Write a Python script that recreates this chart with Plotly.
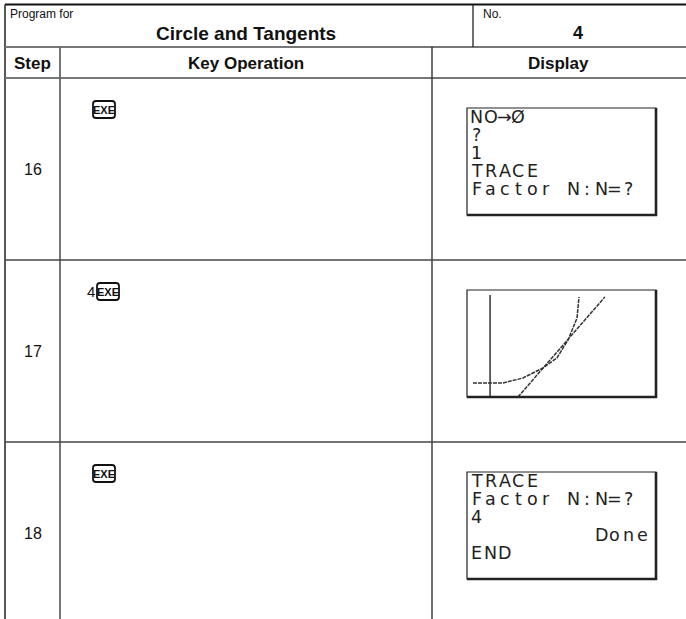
import plotly.graph_objects as go

W, H = 686, 619

# ---------------- data ----------------
title_small = "Program for"
title = "Circle and Tangents"
no_label = "No."
program_no = "4"
col_headers = ["Step", "Key Operation", "Display"]
steps = ["16", "17", "18"]
key_prefix = ["", "4", ""]
key_caps = ["EXE", "EXE", "EXE"]
screen16_lines = ["NO→Ø", "?", "1", "TRACE", "Factor N:N=?"]
screen18_lines = ["TRACE", "Factor N:N=?", "4", "Done", "END"]
screen18_align = ["left", "left", "left", "right", "left"]
# graph screen of step 17, in screen-dot units (96 x 64 dots)
curve_x = [3.0, 18.1, 28.1, 38.2, 45.2, 50.8, 55.3, 56.3]
curve_y = [8.2, 8.2, 11.2, 17.1, 23.0, 33.6, 46.5, 58.9]
tangent_x = [25.6, 69.3]
tangent_y = [0.0, 58.9]
yaxis_x = [11.6, 11.6]
yaxis_y = [0.0, 60.0]

# ---------------- layout constants ----------------
L, X_STEP, X_DISP, X_NO, R = 5, 60, 432, 473, 700
Y_TOP, Y_H1, Y_H2 = 4.5, 47, 78
ROW_H = 182
SCR_DX, SCR_W, SCR_DY, SCR_H = 35, 189, 30, 107
LINE_H = 18
PITCH = 13.8
FONT = "Liberation Sans, Arial, sans-serif"
NARROW = "Liberation Sans Narrow, Arial Narrow, Liberation Sans, Arial, sans-serif"
SCR_FONT = "DejaVu Sans, sans-serif"

fig = go.Figure()
shapes, ann = [], []

def line(x0, y0, x1, y1, color="#222", width=1.5):
    shapes.append(dict(type="line", xref="x", yref="y", x0=x0, y0=y0, x1=x1, y1=y1,
                       line=dict(color=color, width=width)))

def text(x, y, s, size, bold=False, xanchor="center", family=FONT, color="#111"):
    ann.append(dict(xref="x", yref="y", x=x, y=y, text=f"<b>{s}</b>" if bold else s,
                    showarrow=False, xanchor=xanchor, yanchor="middle",
                    font=dict(family=family, size=size, color=color)))

def rrect(x0, y0, x1, y1, r):
    return (f"M {x0+r},{y0} L {x1-r},{y0} Q {x1},{y0} {x1},{y0+r} L {x1},{y1-r} "
            f"Q {x1},{y1} {x1-r},{y1} L {x0+r},{y1} Q {x0},{y1} {x0},{y1-r} "
            f"L {x0},{y0+r} Q {x0},{y0} {x0+r},{y0} Z")

# table grid
line(L, Y_TOP, R, Y_TOP, "#111", 2)
line(L, Y_TOP, L, H + 5, "#222", 1.5)
line(L, Y_H1, R, Y_H1, "#777", 2)
line(L, Y_H2, R, Y_H2, "#777", 2)
line(X_NO, Y_TOP, X_NO, Y_H1, "#222", 1.3)
line(X_STEP, Y_H1, X_STEP, H + 5, "#666", 1.8)
line(X_DISP, Y_H1, X_DISP, H + 5, "#222", 1.3)
for i in range(1, len(steps)):
    line(L, Y_H2 + i * ROW_H, R, Y_H2 + i * ROW_H, "#444", 1.6)

# headers
text(8, 14, title_small, 12, xanchor="left")
text(246, 33, title, 19, bold=True)
text(481, 14, no_label, 12, xanchor="left")
text(578, 33, program_no, 18, bold=True)
text((L + X_STEP) / 2, 63, col_headers[0], 17, bold=True)
text((X_STEP + X_DISP) / 2, 63, col_headers[1], 17, bold=True)
text(558, 63, col_headers[2], 17, bold=True)

# rows
for i, s in enumerate(steps):
    top = Y_H2 + i * ROW_H
    text((L + X_STEP) / 2, top + ROW_H / 2, s, 16)
    kx0 = 93
    if key_prefix[i]:
        text(91, top + 31.5, key_prefix[i], 15, xanchor="center")
        kx0 = 97
    shapes.append(dict(type="path", xref="x", yref="y",
                       path=rrect(kx0, top + 23, kx0 + 22, top + 40, 3),
                       line=dict(color="#111", width=1.8), fillcolor="white"))
    text(kx0 + 11, top + 31.5, key_caps[i], 11, bold=True, family=NARROW)
    # screen frame
    sx0, sy0 = X_DISP + SCR_DX, top + SCR_DY
    sx1, sy1 = sx0 + SCR_W, sy0 + SCR_H
    shapes.append(dict(type="rect", xref="x", yref="y", x0=sx0, y0=sy0, x1=sx1, y1=sy1,
                       line=dict(color="#222", width=1.2)))
    line(sx1, sy0, sx1, sy1 + 1, "#222", 2.6)
    line(sx0, sy1, sx1 + 1, sy1, "#222", 2.6)

def screen_text(lines, top, aligns=None, ncols=13):
    sx0, sy0 = X_DISP + SCR_DX + 3, top + SCR_DY
    for j, s in enumerate(lines):
        y = sy0 + 9 + j * LINE_H
        start = ncols - len(s) if (aligns and aligns[j] == "right") else 0
        for k, ch in enumerate(s):
            if ch == " ":
                continue
            text(sx0 + (start + k + 0.5) * PITCH, y, ch, 17.5, family=SCR_FONT, color="#222")

screen_text(screen16_lines, Y_H2)
screen_text(screen18_lines, Y_H2 + 2 * ROW_H, screen18_align)

# graph screen (step 17)
top17 = Y_H2 + ROW_H
gx0, gy0 = X_DISP + SCR_DX, top17 + SCR_DY
traces = [(yaxis_x, yaxis_y, "solid"), (curve_x, curve_y, "4px,1px"),
          (tangent_x, tangent_y, "4px,1px")]
for xs, ys, dash in traces:
    fig.add_trace(go.Scatter(x=xs, y=ys, mode="lines", xaxis="x2", yaxis="y2",
                             line=dict(color="#333", width=1.5, dash=dash),
                             hoverinfo="skip", showlegend=False))

fig.add_trace(go.Scatter(x=[0], y=[0], mode="markers", marker=dict(opacity=0),
                         showlegend=False, hoverinfo="skip"))

fig.update_layout(
    width=W, height=H, margin=dict(l=0, r=0, t=0, b=0),
    paper_bgcolor="white", plot_bgcolor="rgba(0,0,0,0)",
    xaxis=dict(range=[0, W], visible=False, domain=[0, 1], fixedrange=True),
    yaxis=dict(range=[H, 0], visible=False, domain=[0, 1], fixedrange=True),
    xaxis2=dict(range=[0, 95], visible=False, anchor="y2", fixedrange=True,
                domain=[gx0 / W, (gx0 + SCR_W) / W]),
    yaxis2=dict(range=[0, 63], visible=False, anchor="x2", fixedrange=True,
                domain=[(H - gy0 - SCR_H) / H, (H - gy0) / H]),
    shapes=shapes, annotations=ann, showlegend=False,
)

# remove the page's default body margin so the figure sits at the window's corner
fig.write_html("out.html", config={"displayModeBar": False},
               post_script="document.body.style.margin='0';document.body.style.overflow='hidden';")
